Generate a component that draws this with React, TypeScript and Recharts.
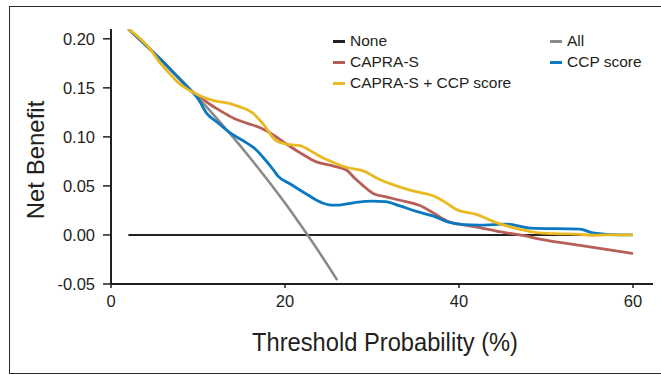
import React from "react";
import { LineChart, Line, XAxis, YAxis, Legend, Label } from "recharts";

// ---- data (threshold probability %, net benefit) ----
const noneThreshold = [2, 60];
const noneBenefit = [0, 0];

const allThreshold = [2, 4, 6, 8, 10, 12, 14, 16, 18, 20, 22, 24, 26];
const allBenefit = [0.21, 0.1935, 0.1765, 0.1585, 0.14, 0.1205, 0.1, 0.0785, 0.056, 0.0325, 0.0075, -0.0185, -0.046];

const capraThreshold = [2, 4, 6, 8, 9.1, 10.2, 11.4, 12.5, 14.1, 15.6, 17.1, 18.3, 20.2, 21.7, 23.6, 25.5, 27.1, 28, 29, 30.2, 31.5, 33.2, 35.5, 37, 38.6, 40.5, 42, 44.3, 47, 50.1, 53.9, 60];
const capraBenefit = [0.21, 0.1935, 0.1764, 0.158, 0.148, 0.141, 0.133, 0.127, 0.119, 0.114, 0.1095, 0.104, 0.0925, 0.084, 0.0745, 0.0705, 0.066, 0.058, 0.05, 0.042, 0.039, 0.0354, 0.03, 0.0228, 0.0143, 0.0102, 0.008, 0.004, 0.0, -0.0054, -0.0105, -0.019];

const ccpThreshold = [2, 4, 6, 8, 9.1, 10, 11, 12.2, 13.7, 15.2, 16.4, 17.5, 18.7, 19.2, 20.6, 22.5, 24.2, 25.3, 26.2, 28, 30, 31.5, 33.2, 35.1, 37, 38.6, 40.5, 42.4, 45.5, 48.2, 53.9, 55.4, 57.7, 60];
const ccpBenefit = [0.21, 0.1935, 0.1764, 0.158, 0.148, 0.139, 0.124, 0.115, 0.104, 0.096, 0.089, 0.079, 0.066, 0.06, 0.052, 0.0415, 0.033, 0.0305, 0.0305, 0.033, 0.0345, 0.034, 0.0296, 0.024, 0.0194, 0.0136, 0.0105, 0.01, 0.011, 0.007, 0.006, 0.002, 0.0003, 0];

const comboThreshold = [2, 4.5, 5.6, 6.8, 7.9, 9.1, 10.2, 11.8, 13.7, 14.8, 16.2, 17.5, 19, 20.6, 21.7, 22.9, 24.1, 25.6, 27, 29, 30.9, 32.8, 34.7, 36, 37, 38.5, 39.7, 42, 44.3, 47, 48.9, 51, 53.9, 55.4, 57, 60];
const comboBenefit = [0.21, 0.1895, 0.176, 0.164, 0.154, 0.147, 0.142, 0.137, 0.134, 0.1306, 0.125, 0.113, 0.096, 0.092, 0.091, 0.086, 0.0797, 0.0738, 0.069, 0.0653, 0.0565, 0.05, 0.0449, 0.0425, 0.04, 0.033, 0.026, 0.021, 0.0126, 0.0058, 0.0024, 0.0013, 0.0007, -0.0003, 0, 0];

const xTicks = [0, 20, 40, 60];
const yTicks = [-0.05, 0, 0.05, 0.1, 0.15, 0.2];

const seriesNames = ["None", "All", "CAPRA-S", "CCP score", "CAPRA-S + CCP score"];

const zip = (xs: number[], ys: number[]) => xs.map((x, i) => ({ x, y: ys[i] }));

const FONT = "'Liberation Sans', Arial, Helvetica, sans-serif";
const INK = "#231f20";

// legend slot: [left px, top-center px]
const legendSlots: Record<string, [number, number]> = {
  "None": [333, 41],
  "CAPRA-S": [333, 62],
  "CAPRA-S + CCP score": [333, 83],
  "All": [550, 41],
  "CCP score": [550, 62],
};

const LegendContent = (props: any) => {
  const payload = props.payload || [];
  return (
    <div style={{ position: "relative", width: 661, height: 100 }}>
      {payload.map((p: any) => {
        const slot = legendSlots[p.value];
        if (!slot) return null;
        return (
          <div
            key={p.value}
            style={{
              position: "absolute",
              left: slot[0],
              top: slot[1] - 10,
              height: 20,
              display: "flex",
              alignItems: "center",
              fontFamily: FONT,
              fontSize: 15.5,
              color: INK,
              whiteSpace: "nowrap",
            }}
          >
            <span style={{ display: "inline-block", width: 12, height: 3, background: p.color, marginRight: 5 }} />
            <span>{p.value}</span>
          </div>
        );
      })}
    </div>
  );
};

const XTitle = (props: any) => {
  const vb = props.viewBox || { x: 111, y: 284, width: 542 };
  return (
    <text
      x={vb.x + vb.width / 2 + 3}
      y={vb.y + 67}
      textAnchor="middle"
      fontFamily={FONT}
      fontSize={26}
      fill={INK}
      textLength={266}
      lengthAdjust="spacingAndGlyphs"
    >
      Threshold Probability (%)
    </text>
  );
};

const YTitle = () => (
  <text
    x={0}
    y={0}
    transform="translate(44,160) rotate(-90)"
    textAnchor="middle"
    fontFamily={FONT}
    fontSize={24}
    fill={INK}
  >
    Net Benefit
  </text>
);

export default function App() {
  return (
    <div style={{ position: "absolute", left: 0, top: 0, width: 661, height: 375, overflow: "hidden", background: "#fff" }}>
      <div
        style={{
          position: "absolute",
          left: 9,
          top: 6,
          width: 652,
          height: 367.5,
          boxSizing: "border-box",
          borderTop: "1.5px solid #2b2b2b",
          borderLeft: "1.5px solid #2b2b2b",
          borderBottom: "1.5px solid #2b2b2b",
        }}
      />
      <div style={{ position: "absolute", left: 0, top: 0 }}>
        <LineChart width={661} height={375} margin={{ top: 29, right: 8, bottom: 0, left: 0 }}>
          <XAxis
            type="number"
            dataKey="x"
            domain={[0, 62.3]}
            ticks={xTicks}
            allowDataOverflow
            height={91}
            tickSize={4}
            tickMargin={7}
            axisLine={{ stroke: INK, strokeWidth: 2 }}
            tickLine={{ stroke: INK, strokeWidth: 1.5 }}
            tick={{ fontFamily: FONT, fontSize: 16.5, fill: INK }}
          >
            <Label content={<XTitle />} />
          </XAxis>
          <YAxis
            type="number"
            dataKey="y"
            domain={[-0.05, 0.21]}
            ticks={yTicks}
            allowDataOverflow
            width={111}
            tickSize={8}
            tickMargin={8}
            tickFormatter={(v: number) => v.toFixed(2)}
            axisLine={{ stroke: INK, strokeWidth: 2 }}
            tickLine={{ stroke: INK, strokeWidth: 1.5 }}
            tick={{ fontFamily: FONT, fontSize: 16.5, fill: INK }}
          >
            <Label content={<YTitle />} />
          </YAxis>
          <Legend
            layout="vertical"
            align="center"
            verticalAlign="middle"
            content={<LegendContent />}
            wrapperStyle={{ position: "absolute", left: 0, top: 0, width: 661, height: 100 }}
          />
          <Line name={seriesNames[0]} data={zip(noneThreshold, noneBenefit)} dataKey="y" type="linear" stroke="#222222" strokeWidth={2} dot={false} activeDot={false} isAnimationActive={false} />
          <Line name={seriesNames[1]} data={zip(allThreshold, allBenefit)} dataKey="y" type="monotone" stroke="#8a8a8a" strokeWidth={2.6} dot={false} activeDot={false} isAnimationActive={false} />
          <Line name={seriesNames[2]} data={zip(capraThreshold, capraBenefit)} dataKey="y" type="monotone" stroke="#b75e57" strokeWidth={2.8} dot={false} activeDot={false} isAnimationActive={false} />
          <Line name={seriesNames[3]} data={zip(ccpThreshold, ccpBenefit)} dataKey="y" type="monotone" stroke="#0b79c1" strokeWidth={2.8} dot={false} activeDot={false} isAnimationActive={false} />
          <Line name={seriesNames[4]} data={zip(comboThreshold, comboBenefit)} dataKey="y" type="monotone" stroke="#e8b922" strokeWidth={2.8} dot={false} activeDot={false} isAnimationActive={false} />
        </LineChart>
      </div>
    </div>
  );
}
